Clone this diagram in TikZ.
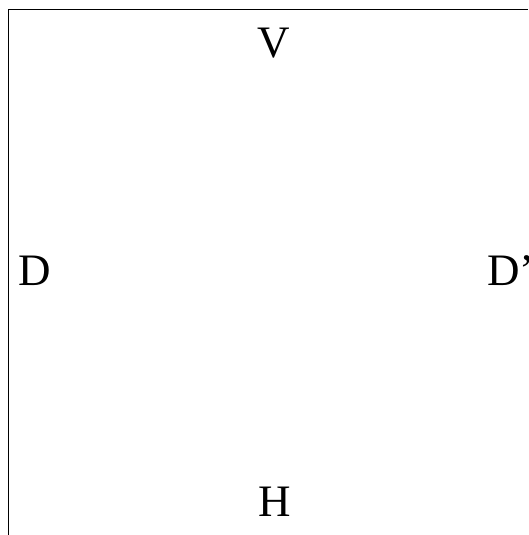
\documentclass[tikz,border=0pt]{standalone}
\usepackage{fontspec}
\setmainfont{Liberation Serif}
\tikzset{lbl/.style={inner sep=0pt, font=\fontsize{45}{54}\selectfont}}
\begin{document}
\begin{tikzpicture}[x=1pt, y=-1pt]
\useasboundingbox (0,0) rectangle (528,535);
\clip (0,0) rectangle (528,535);
\coordinate (bl) at (8.5,535);
\coordinate (tl) at (8.5,9.5);
\coordinate (tr) at (528,9.5);
\draw[line width=1.5pt] (bl) -- (tl) -- (tr);
\node[lbl, anchor=base] (v) at (274,57) {V};
\node[lbl, anchor=base] (h) at (274.5,516) {H};
\node[lbl, anchor=base west] (d) at (18,285) {D};
\node[lbl, anchor=base west] (dp) at (487,285) {D'};
\end{tikzpicture}
\end{document}
